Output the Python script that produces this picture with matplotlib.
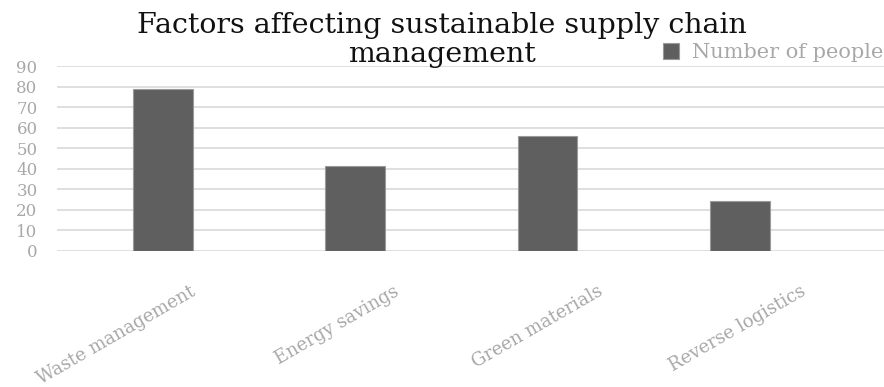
import matplotlib.pyplot as plt

categories = ["Waste management", "Energy savings", "Green materials", "Reverse logistics"]
people = [79, 41, 56, 24]
yticks = [0, 10, 20, 30, 40, 50, 60, 70, 80, 90]

plt.rcParams['font.family'] = ['DejaVu Serif']

fig = plt.figure(figsize=(8.84, 3.87), dpi=100)
ax = fig.add_axes([57 / 884, 1 - 250.5 / 387, 827 / 884, 184.5 / 387])

x = range(len(categories))
ax.bar(x, people, width=0.31, color='#5f5f5f', edgecolor='#9a9a9a',
       linewidth=0.8, label='Number of people', zorder=3)

ax.set_ylim(0, 90)
ax.set_xlim(-0.55, 3.75)
ax.set_yticks(yticks)
ax.set_xticks(list(x))
ax.set_xticklabels([])
# rotated category labels, end of text sits right of the bar
for i, name in zip(x, categories):
    ax.annotate(name, xy=(i, 0), xycoords='data', xytext=(27 + 11 * i, -32),
                textcoords='offset pixels', rotation=30, ha='right', va='top',
                rotation_mode='anchor', fontsize=13, color='#a8a8a8')
ax.yaxis.grid(True, color='#dcdcdc', linewidth=1.3, zorder=0)
ax.tick_params(axis='both', length=0, labelcolor='#a8a8a8')
ax.tick_params(axis='y', labelsize=12, pad=14)
for s in ax.spines.values():
    s.set_visible(False)

fig.text(0.5, 1 - 33 / 387, "Factors affecting sustainable supply chain",
         ha='center', va='baseline', fontsize=20.5, color='#111111')
fig.text(0.5, 1 - 62 / 387, "management",
         ha='center', va='baseline', fontsize=20.5, color='#111111')

fig.legend(loc='upper right', bbox_to_anchor=(0.999, 1 - 43 / 387), frameon=False,
           fontsize=15, labelcolor='#a8a8a8', handlelength=0.8, handleheight=0.8,
           handletextpad=0.6, borderpad=0.0, borderaxespad=0.0)

fig.savefig('out.png', dpi=100)
